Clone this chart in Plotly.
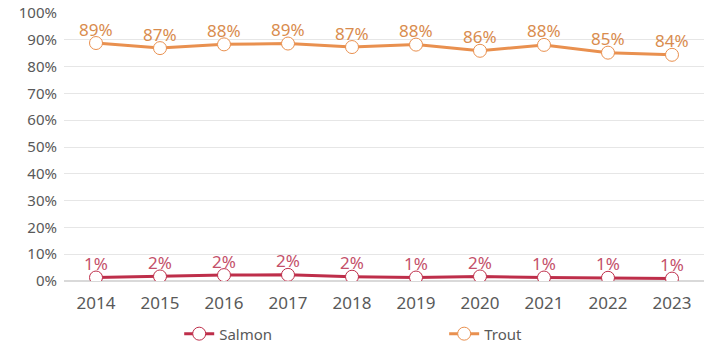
import plotly.graph_objects as go

years = ["2014", "2015", "2016", "2017", "2018", "2019", "2020", "2021", "2022", "2023"]
salmon = [0.013, 0.017, 0.022, 0.023, 0.016, 0.013, 0.017, 0.013, 0.012, 0.009]
trout = [0.888, 0.869, 0.883, 0.886, 0.873, 0.882, 0.859, 0.881, 0.852, 0.844]
yticks = [0, 0.1, 0.2, 0.3, 0.4, 0.5, 0.6, 0.7, 0.8, 0.9, 1.0]

salmon_c = "#BE2E4A"
trout_c = "#E9904F"
font = "Noto Sans"

fig = go.Figure()
series = [("Salmon", salmon, salmon_c, "#C4506A", "legend"),
          ("Trout", trout, trout_c, "#D98C4E", "legend2")]
for name, vals, col, tcol, leg in series:
    fig.add_trace(go.Scatter(
        x=years, y=vals, name=name, mode="lines+markers", legend=leg,
        line=dict(color=col, width=3),
        marker=dict(size=13, color="white", line=dict(color=col, width=1)),
    ))
    for i, yv in enumerate(vals):
        fig.add_annotation(x=i, y=yv, xref="x", yref="y", text=f"{round(yv*100):.0f}%",
                           showarrow=False, yanchor="middle", yshift=14,
                           font=dict(color=tcol, size=17, family=font))

leg_common = dict(orientation="h", xanchor="left", y=-0.193, yanchor="middle",
                  itemwidth=30, font=dict(size=15, color="#595959"))
fig.update_layout(
    width=712, height=357,
    margin=dict(l=64, r=8, t=13, b=75),
    paper_bgcolor="white", plot_bgcolor="white",
    font=dict(family=font, color="#595959"),
    showlegend=True,
    legend=dict(x=0.18, **leg_common),
    legend2=dict(x=0.594, **leg_common),
    xaxis=dict(type="category", range=[-0.5, 9.5], showgrid=False, showline=False, ticks="",
               automargin=False, ticklabelstandoff=10,
               tickfont=dict(size=17, color="#595959")),
    yaxis=dict(range=[0, 1.0], tickvals=yticks, tickformat=".0%", automargin=False,
               showgrid=True, gridcolor="#E6E6E6", gridwidth=1, zeroline=True,
               zerolinecolor="#D9D9D9", showline=False, ticklabelstandoff=6,
               tickfont=dict(size=15, color="#595959")),
)
fig.write_html("out.html", config={"displayModeBar": False},
               post_script="document.body.style.margin='0';document.body.style.overflow='hidden';")
